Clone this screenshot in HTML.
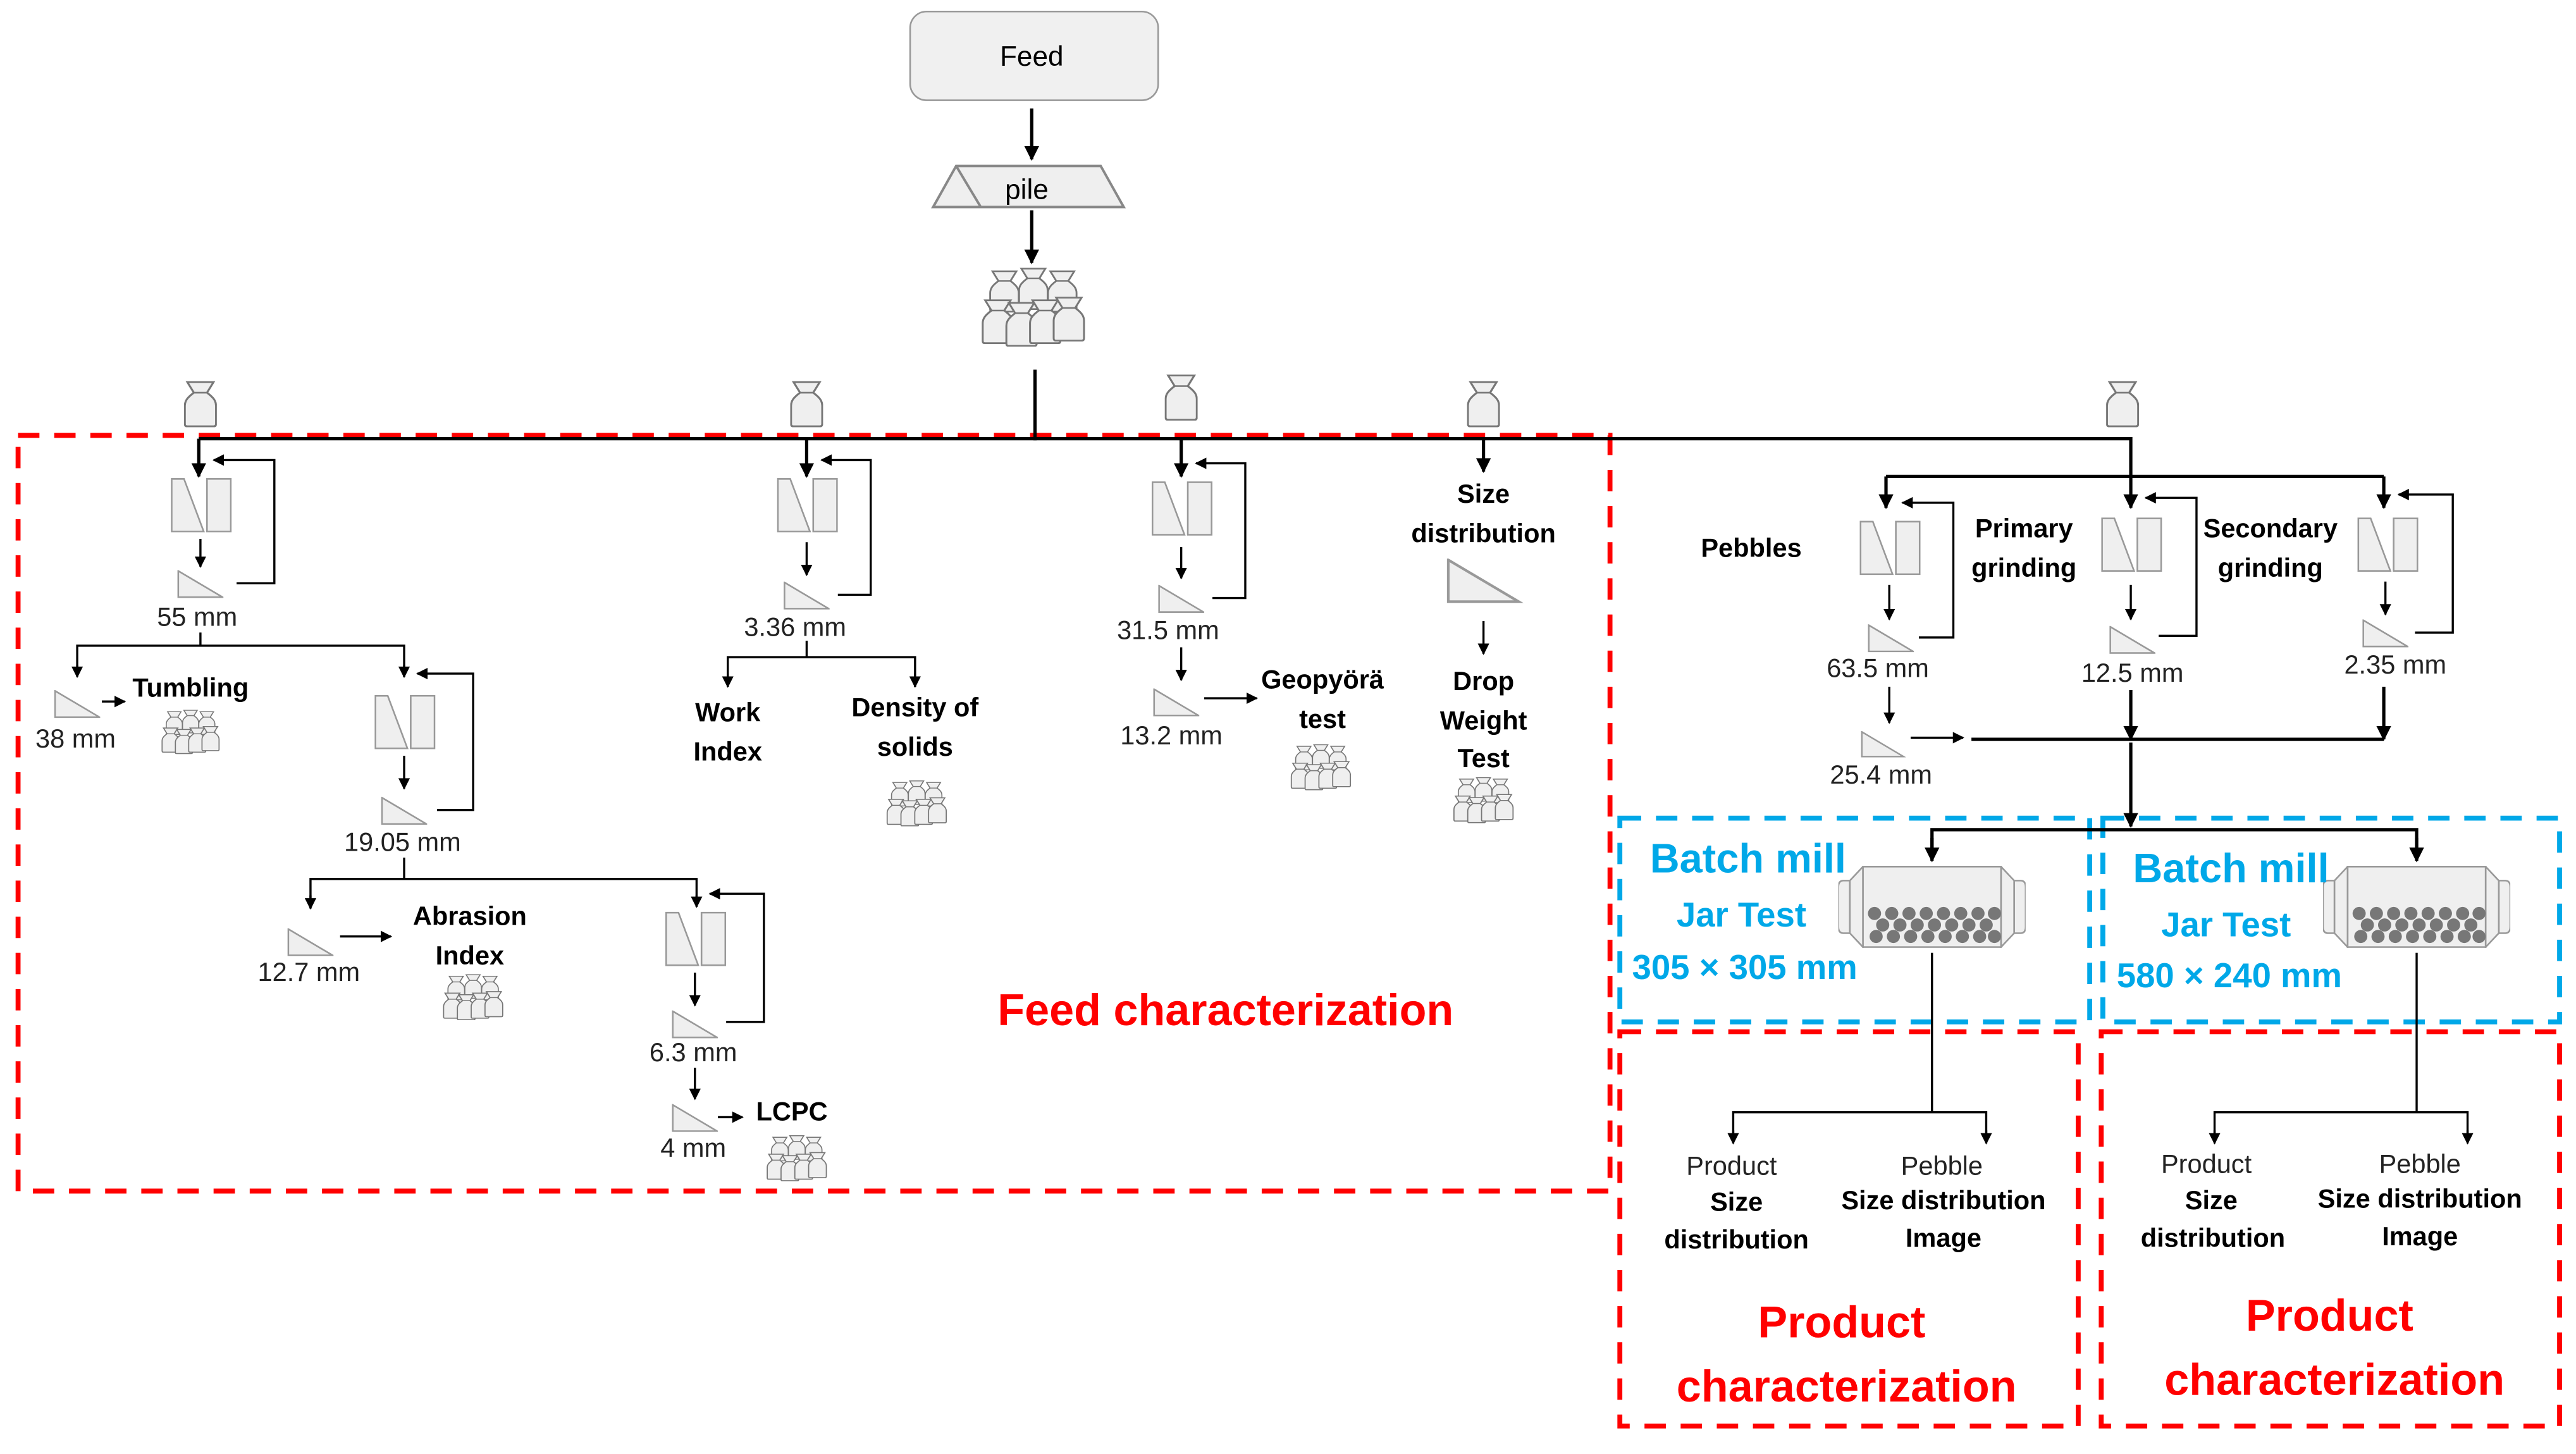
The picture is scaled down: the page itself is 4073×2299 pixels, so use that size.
<!DOCTYPE html>
<html><head><meta charset="utf-8"><style>
html,body{margin:0;padding:0;background:#fff;}
svg{display:block;}
text{font-family:"Liberation Sans",Arial,sans-serif;text-anchor:middle;}
.b{font-weight:bold;font-size:16px;fill:#000;}
.n{font-size:16px;fill:#222;}
.r{font-weight:bold;fill:#ff0000;font-size:27px;}
.c{font-weight:bold;fill:#00a8e8;}
.l{stroke:#000;stroke-width:1.3;fill:none;}
.L{stroke:#000;stroke-width:2;fill:none;}
</style></head><body>
<svg width="4073" height="2299" viewBox="0 0 1568 885" xmlns="http://www.w3.org/2000/svg">
<defs>
<marker id="a" viewBox="0 0 10 10" refX="9" refY="5" markerWidth="7" markerHeight="7" markerUnits="userSpaceOnUse" orient="auto"><path d="M0,0L10,5L0,10Z" fill="#000"/></marker>
<marker id="A" viewBox="0 0 10 10" refX="9" refY="5" markerWidth="9" markerHeight="9" markerUnits="userSpaceOnUse" orient="auto"><path d="M0,0L10,5L0,10Z" fill="#000"/></marker>
<symbol id="bag" viewBox="0 0 20 28"><path d="M2,0.5H18L14,7C18,10 19.5,12 19.5,15V26Q19.5,27.5 18,27.5H2Q0.5,27.5 0.5,26V15C0.5,12 2,10 6,7Z" fill="#efefef" stroke="#777" stroke-width="1.2"/><path d="M6,7H14" stroke="#777"/></symbol>
<symbol id="cr" viewBox="0 0 37 33"><path d="M0.5,0.5H8L20,32.5H0.5Z" fill="#efefef" stroke="#999"/><rect x="22" y="0.5" width="14.5" height="32" fill="#efefef" stroke="#999"/></symbol>
<symbol id="sc" viewBox="0 0 28 17"><path d="M0.5,0.5L27.5,16.5H0.5Z" fill="#efefef" stroke="#999"/></symbol>
<symbol id="pile" viewBox="0 0 40 30"><use href="#bag" x="3" y="1" width="12" height="16"/><use href="#bag" x="14" y="0" width="12" height="16"/><use href="#bag" x="25" y="1" width="12" height="16"/><use href="#bag" x="0" y="12" width="13" height="17"/><use href="#bag" x="9" y="13" width="13" height="17"/><use href="#bag" x="18" y="12" width="13" height="17"/><use href="#bag" x="27" y="11" width="13" height="17"/></symbol>
<symbol id="mill" viewBox="0 0 114 50"><path d="M7,9H3Q0,9 0,13V37Q0,41 3,41H7Z" fill="#efefef" stroke="#999"/><path d="M107,9H111Q114,9 114,13V37Q114,41 111,41H107Z" fill="#efefef" stroke="#999"/><path d="M15,0.5L7,9V41L15,49.5Z" fill="#efefef" stroke="#999"/><path d="M99,0.5L107,9V41L99,49.5Z" fill="#efefef" stroke="#999"/><rect x="15" y="0.5" width="84" height="49" fill="#efefef" stroke="#999"/>
<g fill="#777"><circle cx="22" cy="29" r="4"/><circle cx="32.5" cy="29" r="4"/><circle cx="43" cy="29" r="4"/><circle cx="53.5" cy="29" r="4"/><circle cx="64" cy="29" r="4"/><circle cx="74.5" cy="29" r="4"/><circle cx="85" cy="29" r="4"/><circle cx="95" cy="29" r="4"/><circle cx="27" cy="36" r="4"/><circle cx="37.5" cy="36" r="4"/><circle cx="48" cy="36" r="4"/><circle cx="58.5" cy="36" r="4"/><circle cx="69" cy="36" r="4"/><circle cx="79.5" cy="36" r="4"/><circle cx="90" cy="36" r="4"/><circle cx="23" cy="43" r="4"/><circle cx="33.5" cy="43" r="4"/><circle cx="44" cy="43" r="4"/><circle cx="54.5" cy="43" r="4"/><circle cx="65" cy="43" r="4"/><circle cx="75.5" cy="43" r="4"/><circle cx="86" cy="43" r="4"/><circle cx="95" cy="43" r="4"/></g></symbol>
</defs>

<g fill="none" stroke-width="3" stroke-dasharray="13,9">
<rect x="11" y="265" width="969" height="460" stroke="#ff0000"/>
<rect x="986" y="628" width="279" height="240" stroke="#ff0000"/>
<rect x="1279" y="628" width="279" height="240" stroke="#ff0000"/>
<rect x="986" y="498" width="286" height="124" stroke="#00a8e8"/>
<rect x="1280" y="498" width="278" height="124" stroke="#00a8e8"/>
</g>

<rect x="554" y="7" width="151" height="54" rx="10" fill="#f0f0f0" stroke="#999"/>
<text x="628" y="40" style="font-size:17px">Feed</text>
<path class="L" d="M628,66V97" marker-end="url(#A)"/>
<path d="M568,126L582,101H670L684,126Z" fill="#efefef" stroke="#888" stroke-width="1.5"/>
<path d="M582,101L597,126" stroke="#888" stroke-width="1.5"/>
<text x="625" y="121" style="font-size:17px">pile</text>
<path class="L" d="M628,128V160" marker-end="url(#A)"/>
<use href="#pile" x="597" y="163" width="64" height="48"/>
<path class="L" d="M630,225V268"/>
<path class="L" d="M121,267H1297V290M1148,290H1451"/>
<path class="L" d="M121,267V290" marker-end="url(#A)"/>
<path class="L" d="M491,267V290" marker-end="url(#A)"/>
<path class="L" d="M719,267V290" marker-end="url(#A)"/>
<path class="L" d="M903,267V287" marker-end="url(#A)"/>
<path class="L" d="M1148,290V309" marker-end="url(#A)"/>
<path class="L" d="M1297,290V309" marker-end="url(#A)"/>
<path class="L" d="M1451,290V309" marker-end="url(#A)"/>
<use href="#bag" x="112" y="232" width="20" height="28"/>
<use href="#bag" x="481" y="232" width="20" height="28"/>
<use href="#bag" x="709" y="228" width="20" height="28"/>
<use href="#bag" x="893" y="232" width="20" height="28"/>
<use href="#bag" x="1282" y="232" width="20" height="28"/>

<use href="#cr" x="104" y="291" width="37" height="33"/>
<path class="l" d="M122,328V345" marker-end="url(#a)"/>
<use href="#sc" x="108" y="347" width="28" height="17"/>
<path class="l" d="M144,355H167V280H130" marker-end="url(#a)"/>
<text class="n" x="120" y="381">55 mm</text>
<path class="l" d="M122,385V393M47,410V393H246V412"/>
<path class="l" d="M47,405V412" marker-end="url(#a)"/>
<path class="l" d="M246,405V412" marker-end="url(#a)"/>
<use href="#sc" x="33" y="420" width="28" height="17"/>
<text class="n" x="46" y="455">38 mm</text>
<path class="l" d="M62,427H76" marker-end="url(#a)"/>
<text class="b" x="116" y="424">Tumbling</text>
<use href="#pile" x="98" y="432" width="36" height="27"/>
<use href="#cr" x="228" y="423" width="37" height="33"/>
<path class="l" d="M246,460V480" marker-end="url(#a)"/>
<use href="#sc" x="232" y="485" width="28" height="17"/>
<path class="l" d="M266,493H288V410H254" marker-end="url(#a)"/>
<text class="n" x="245" y="518">19.05 mm</text>
<path class="l" d="M246,522V535M189,553V535H424V551"/>
<path class="l" d="M189,545V553" marker-end="url(#a)"/>
<path class="l" d="M424,545V552" marker-end="url(#a)"/>
<use href="#sc" x="175" y="565" width="28" height="17"/>
<text class="n" x="188" y="597">12.7 mm</text>
<path class="l" d="M207,570H238" marker-end="url(#a)"/>
<text class="b" x="286" y="563">Abrasion</text>
<text class="b" x="286" y="587">Index</text>
<use href="#pile" x="269" y="593" width="38" height="28"/>
<use href="#cr" x="405" y="555" width="37" height="33"/>
<path class="l" d="M423,592V612" marker-end="url(#a)"/>
<use href="#sc" x="409" y="615" width="28" height="17"/>
<path class="l" d="M442,622H465V544H432" marker-end="url(#a)"/>
<text class="n" x="422" y="646">6.3 mm</text>
<path class="l" d="M423,650V669" marker-end="url(#a)"/>
<use href="#sc" x="409" y="672" width="28" height="17"/>
<text class="n" x="422" y="704">4 mm</text>
<path class="l" d="M437,680H452" marker-end="url(#a)"/>
<text class="b" x="482" y="682">LCPC</text>
<use href="#pile" x="466" y="691" width="38" height="28"/>

<use href="#cr" x="473" y="291" width="37" height="33"/>
<path class="l" d="M491,330V350" marker-end="url(#a)"/>
<use href="#sc" x="477" y="354" width="28" height="17"/>
<path class="l" d="M510,362H530V280H500" marker-end="url(#a)"/>
<text class="n" x="484" y="387">3.36 mm</text>
<path class="l" d="M491,390V400M443,418V400H557V418"/>
<path class="l" d="M443,410V418" marker-end="url(#a)"/>
<path class="l" d="M557,410V418" marker-end="url(#a)"/>
<text class="b" x="443" y="439">Work</text>
<text class="b" x="443" y="463">Index</text>
<text class="b" x="557" y="436">Density of</text>
<text class="b" x="557" y="460">solids</text>
<use href="#pile" x="539" y="475" width="38" height="28"/>

<use href="#cr" x="701" y="293" width="37" height="33"/>
<path class="l" d="M719,333V352" marker-end="url(#a)"/>
<use href="#sc" x="705" y="356" width="28" height="17"/>
<path class="l" d="M738,364H758V282H728" marker-end="url(#a)"/>
<text class="n" x="711" y="389">31.5 mm</text>
<path class="l" d="M719,394V414" marker-end="url(#a)"/>
<use href="#sc" x="702" y="419" width="28" height="17"/>
<text class="n" x="713" y="453">13.2 mm</text>
<path class="l" d="M733,425H765" marker-end="url(#a)"/>
<text class="b" x="805" y="419">Geopyörä</text>
<text class="b" x="805" y="443">test</text>
<use href="#pile" x="785" y="453" width="38" height="28"/>

<text class="b" x="903" y="306">Size</text>
<text class="b" x="903" y="330">distribution</text>
<use href="#sc" x="878" y="340" width="50" height="27"/>
<path class="l" d="M903,378V398" marker-end="url(#a)"/>
<text class="b" x="903" y="420">Drop</text>
<text class="b" x="903" y="444">Weight</text>
<text class="b" x="903" y="467">Test</text>
<use href="#pile" x="884" y="473" width="38" height="28"/>

<text class="r" x="746" y="624">Feed characterization</text>

<use href="#cr" x="1132" y="317" width="37" height="33"/>
<text class="b" x="1066" y="339">Pebbles</text>
<path class="l" d="M1150,356V377" marker-end="url(#a)"/>
<use href="#sc" x="1137" y="380" width="28" height="17"/>
<path class="l" d="M1168,388H1189V306H1158" marker-end="url(#a)"/>
<text class="n" x="1143" y="412">63.5 mm</text>
<path class="l" d="M1150,418V440" marker-end="url(#a)"/>
<use href="#sc" x="1132" y="445" width="28" height="16"/>
<text class="n" x="1145" y="477">25.4 mm</text>
<path class="l" d="M1163,449H1195" marker-end="url(#a)"/>
<path class="L" d="M1200,450H1451"/>

<use href="#cr" x="1279" y="315" width="37" height="33"/>
<text class="b" x="1232" y="327">Primary</text>
<text class="b" x="1232" y="351">grinding</text>
<path class="l" d="M1297,356V377" marker-end="url(#a)"/>
<use href="#sc" x="1284" y="381" width="28" height="17"/>
<path class="l" d="M1314,387H1337V303H1306" marker-end="url(#a)"/>
<text class="n" x="1298" y="415">12.5 mm</text>
<path class="L" d="M1297,420V450" marker-end="url(#A)"/>

<use href="#cr" x="1435" y="315" width="37" height="33"/>
<text class="b" x="1382" y="327">Secondary</text>
<text class="b" x="1382" y="351">grinding</text>
<path class="l" d="M1452,354V374" marker-end="url(#a)"/>
<use href="#sc" x="1438" y="377" width="28" height="17"/>
<path class="l" d="M1470,385H1493V301H1460" marker-end="url(#a)"/>
<text class="n" x="1458" y="410">2.35 mm</text>
<path class="L" d="M1451,418V450" marker-end="url(#A)"/>

<path class="L" d="M1297,452V503" marker-end="url(#A)"/>
<path class="L" d="M1176,523V505H1471V523"/>
<path class="L" d="M1176,510V524" marker-end="url(#A)"/>
<path class="L" d="M1471,510V524" marker-end="url(#A)"/>

<use href="#mill" x="1119" y="527" width="114" height="50"/>
<use href="#mill" x="1414" y="527" width="114" height="50"/>
<text class="c" x="1064" y="531" style="font-size:25px">Batch mill</text>
<text class="c" x="1060" y="564" style="font-size:21px">Jar Test</text>
<text class="c" x="1062" y="596" style="font-size:21px">305 × 305 mm</text>
<text class="c" x="1358" y="537" style="font-size:25px">Batch mill</text>
<text class="c" x="1355" y="570" style="font-size:21px">Jar Test</text>
<text class="c" x="1357" y="601" style="font-size:21px">580 × 240 mm</text>

<path class="l" d="M1176,580V677M1055,695V677H1209V695"/>
<path class="l" d="M1055,688V696" marker-end="url(#a)"/>
<path class="l" d="M1209,688V696" marker-end="url(#a)"/>
<text class="n" x="1054" y="715">Product</text>
<text class="b" x="1057" y="737">Size</text>
<text class="b" x="1057" y="760">distribution</text>
<text class="n" x="1182" y="715">Pebble</text>
<text class="b" x="1183" y="736">Size distribution</text>
<text class="b" x="1183" y="759">Image</text>
<text class="r" x="1121" y="814">Product</text>
<text class="r" x="1124" y="853">characterization</text>

<path class="l" d="M1471,580V677M1348,695V677H1502V695"/>
<path class="l" d="M1348,688V696" marker-end="url(#a)"/>
<path class="l" d="M1502,688V696" marker-end="url(#a)"/>
<text class="n" x="1343" y="714">Product</text>
<text class="b" x="1346" y="736">Size</text>
<text class="b" x="1347" y="759">distribution</text>
<text class="n" x="1473" y="714">Pebble</text>
<text class="b" x="1473" y="735">Size distribution</text>
<text class="b" x="1473" y="758">Image</text>
<text class="r" x="1418" y="810">Product</text>
<text class="r" x="1421" y="849">characterization</text>
</svg>
</body></html>
